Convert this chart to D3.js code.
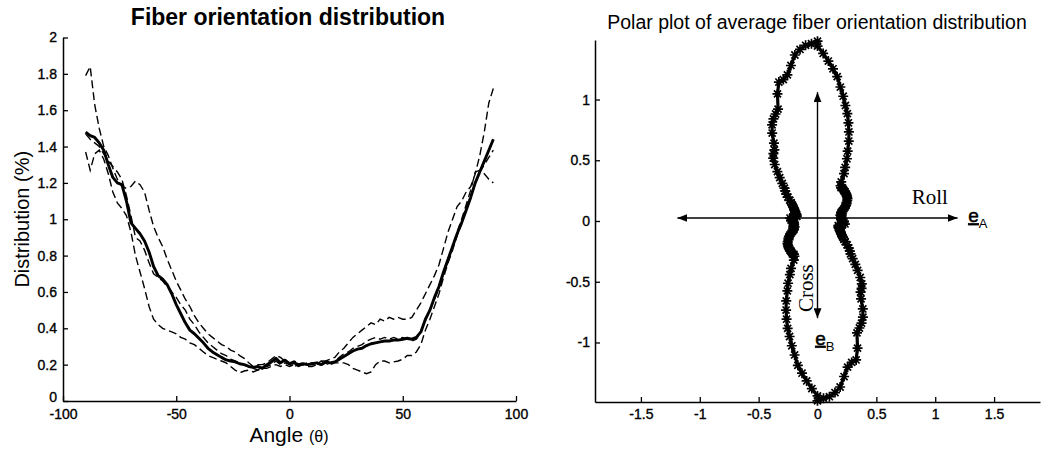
<!DOCTYPE html>
<html>
<head>
<meta charset="utf-8">
<script src="https://cdn.jsdelivr.net/npm/d3@7"></script>
<style>
  html, body { margin: 0; padding: 0; background: #fff; }
  svg { display: block; }
</style>
</head>
<body>
<svg id="chart" width="1045" height="453"></svg>
<script>
// angle grid (deg) shared by all distribution series
const ANGLES = [-90,-88,-86,-84,-82,-80,-78,-76,-74,-72,-70,-68,-66,-64,-62,-60,-58,-56,-54,-52,
  -50,-48,-46,-44,-42,-40,-38,-36,-34,-32,-30,-28,-26,-24,-22,-20,-18,-16,-14,-12,-10,-8,-6,-4,-2,0,
  2,4,6,8,10,12,14,16,18,20,22,24,26,28,30,32,34,36,38,40,42,44,46,48,50,52,54,56,58,60,
  62,64,66,68,70,72,74,76,78,80,82,84,86,88,90];

// average distribution (%) - solid curve, also used for the polar plot
const AVG_DIST = [1.48,1.46,1.45,1.42,1.38,1.30,1.23,1.20,1.19,1.10,0.98,0.95,0.92,0.88,0.82,0.74,0.69,0.67,0.64,0.59,
  0.53,0.48,0.43,0.39,0.37,0.345,0.32,0.29,0.27,0.255,0.24,0.226,0.22,0.215,0.205,0.20,0.19,0.185,0.19,0.18,0.20,0.215,0.235,0.21,0.225,0.205,
  0.21,0.20,0.205,0.20,0.205,0.21,0.20,0.215,0.21,0.215,0.23,0.245,0.26,0.275,0.285,0.29,0.305,0.315,0.32,0.325,0.33,0.33,0.335,0.335,0.34,0.345,0.34,0.35,0.38,0.45,
  0.50,0.57,0.63,0.71,0.78,0.85,0.92,0.98,1.05,1.12,1.20,1.26,1.32,1.38,1.44];

// individual samples - dashed curves
const SAMPLE_A = [1.79,1.84,1.63,1.50,1.40,1.35,1.28,1.22,1.18,1.17,1.18,1.21,1.19,1.15,1.05,0.96,0.90,0.85,0.78,0.72,
  0.66,0.61,0.56,0.52,0.47,0.43,0.40,0.37,0.35,0.33,0.31,0.30,0.28,0.27,0.25,0.235,0.21,0.19,0.20,0.20,0.21,0.23,0.25,0.24,0.22,0.21,
  0.22,0.21,0.20,0.21,0.20,0.21,0.22,0.22,0.23,0.24,0.27,0.29,0.32,0.35,0.37,0.39,0.41,0.43,0.42,0.45,0.44,0.46,0.45,0.46,0.45,0.45,0.46,0.50,0.54,0.59,
  0.64,0.69,0.75,0.84,0.93,1.00,1.07,1.10,1.15,1.18,1.25,1.35,1.48,1.64,1.72];

const SAMPLE_B = [1.37,1.27,1.36,1.38,1.33,1.25,1.15,1.09,1.06,1.02,0.93,0.80,0.71,0.62,0.52,0.45,0.42,0.40,0.39,0.38,
  0.37,0.35,0.34,0.32,0.31,0.29,0.27,0.25,0.24,0.23,0.22,0.21,0.19,0.17,0.155,0.165,0.17,0.16,0.17,0.18,0.18,0.19,0.20,0.19,0.20,0.19,
  0.20,0.19,0.20,0.19,0.19,0.20,0.20,0.21,0.20,0.21,0.21,0.21,0.20,0.18,0.17,0.16,0.15,0.16,0.20,0.22,0.22,0.21,0.215,0.22,0.23,0.25,0.25,0.27,0.31,0.39,
  0.45,0.52,0.59,0.68,0.76,0.83,0.91,0.98,1.06,1.13,1.20,1.26,1.30,1.34,1.38];

const SAMPLE_C = [1.47,1.44,1.42,1.40,1.36,1.32,1.29,1.26,1.22,1.13,1.02,0.90,0.88,0.83,0.76,0.70,0.68,0.66,0.63,0.60,
  0.57,0.53,0.50,0.45,0.42,0.38,0.35,0.32,0.30,0.28,0.26,0.25,0.23,0.22,0.21,0.20,0.19,0.18,0.17,0.19,0.19,0.20,0.22,0.20,0.21,0.20,
  0.19,0.20,0.21,0.20,0.21,0.20,0.22,0.20,0.21,0.22,0.24,0.26,0.27,0.29,0.30,0.31,0.33,0.34,0.35,0.34,0.35,0.34,0.35,0.34,0.35,0.34,0.33,0.34,0.38,0.44,
  0.50,0.56,0.62,0.70,0.77,0.85,0.93,1.00,1.08,1.16,1.26,1.27,1.25,1.22,1.20];

const DIST_X_TICKS = [-100, -50, 0, 50, 100];
const DIST_Y_TICKS = [0, 0.2, 0.4, 0.6, 0.8, 1, 1.2, 1.4, 1.6, 1.8, 2];
const POLAR_X_TICKS = [-1.5, -1, -0.5, 0, 0.5, 1, 1.5];
const POLAR_Y_TICKS = [-1, -0.5, 0, 0.5, 1];

const SANS = '"Liberation Sans", Arial, Helvetica, sans-serif';
const SERIF = '"Liberation Serif", "Times New Roman", serif';

const svg = d3.select("#chart");
svg.append("rect").attr("width", 1045).attr("height", 453).attr("fill", "#fff");

function styleAxis(g) {
  g.attr("font-family", SANS).attr("font-size", 14);
  g.select(".domain").attr("stroke", "#000").attr("stroke-width", 1.5);
  g.selectAll(".tick line").attr("stroke", "#000").attr("stroke-width", 1.3);
  g.selectAll(".tick text")
    .attr("fill", "#000")
    .attr("stroke", "#000")
    .attr("stroke-width", 0.35);
}

// ---------- left: fiber orientation distribution ----------
const x1 = d3.scaleLinear().domain([-100, 100]).range([63, 516]);
const y1 = d3.scaleLinear().domain([0, 2]).range([401, 37.5]);

const left = svg.append("g");

left.append("g")
  .attr("transform", `translate(0,${y1(0)})`)
  .call(d3.axisBottom(x1).tickValues(DIST_X_TICKS).tickSizeInner(-5).tickSizeOuter(0)
    .tickPadding(8).tickFormat((d) => String(d)))
  .call(styleAxis);

left.append("g")
  .attr("transform", `translate(${x1(-100)},0)`)
  .call(d3.axisLeft(y1).tickValues(DIST_Y_TICKS).tickSizeInner(-5).tickSizeOuter(0)
    .tickPadding(6).tickFormat((d) => String(d)))
  .call(styleAxis)
  // the corner "0" sits a little higher, clear of "-100"
  .call((g) => g.selectAll(".tick text").filter((d) => d === 0).attr("dy", "0.05em"));

const distLine = d3.line()
  .x((_, i) => x1(ANGLES[i]))
  .y((d) => y1(d));

[SAMPLE_A, SAMPLE_B, SAMPLE_C].forEach((series) => {
  left.append("path")
    .datum(series)
    .attr("d", distLine)
    .attr("fill", "none")
    .attr("stroke", "#000")
    .attr("stroke-width", 1.4)
    .attr("stroke-dasharray", "8,4");
});

left.append("path")
  .datum(AVG_DIST)
  .attr("d", distLine)
  .attr("fill", "none")
  .attr("stroke", "#000")
  .attr("stroke-width", 2.9)
  .attr("stroke-linejoin", "round");

left.append("text")
  .attr("x", 288).attr("y", 25)
  .attr("text-anchor", "middle")
  .attr("font-family", SANS).attr("font-size", 23).attr("font-weight", "bold")
  .text("Fiber orientation distribution");

const xLabel = left.append("text")
  .attr("x", 289).attr("y", 442)
  .attr("text-anchor", "middle")
  .attr("font-family", SANS).attr("font-size", 21);
xLabel.append("tspan").text("Angle ");
xLabel.append("tspan").attr("font-size", 16).text("(\u03b8)");

left.append("text")
  .attr("transform", `translate(29,${(y1(0) + y1(2)) / 2}) rotate(-90)`)
  .attr("text-anchor", "middle")
  .attr("font-family", SANS).attr("font-size", 20)
  .text("Distribution (%)");

// ---------- right: polar plot of the average ----------
const x2 = d3.scaleLinear().domain([-1.89, 1.89]).range([595, 1040]);
const y2 = d3.scaleLinear().domain([-1.49, 1.49]).range([402, 40]);

const right = svg.append("g");

right.append("g")
  .attr("transform", `translate(0,${y2(-1.49)})`)
  .call(d3.axisBottom(x2).tickValues(POLAR_X_TICKS).tickSizeInner(-5).tickSizeOuter(0)
    .tickPadding(7).tickFormat((d) => String(d)))
  .call(styleAxis);

right.append("g")
  .attr("transform", `translate(${x2(-1.89)},0)`)
  .call(d3.axisLeft(y2).tickValues(POLAR_Y_TICKS).tickSizeInner(-5).tickSizeOuter(0)
    .tickPadding(5).tickFormat((d) => String(d)))
  .call(styleAxis);

// polar points: each angle gives a point and its point-symmetric twin
const rad = Math.PI / 180;
const halfA = ANGLES.map((a, i) => [AVG_DIST[i] * Math.cos(a * rad), AVG_DIST[i] * Math.sin(a * rad)]);
const halfB = halfA.map(([px, py]) => [-px, -py]);
const polarPts = halfA.concat(halfB);

right.append("path")
  .datum(polarPts)
  .attr("d", d3.line().x((d) => x2(d[0])).y((d) => y2(d[1])).curve(d3.curveLinearClosed))
  .attr("fill", "none")
  .attr("stroke", "#000")
  .attr("stroke-width", 3.2);

const asterisk = {
  draw(ctx, size) {
    const r = Math.sqrt(size) / 2;
    const d = r * Math.SQRT1_2;
    ctx.moveTo(-r, 0); ctx.lineTo(r, 0);
    ctx.moveTo(0, -r); ctx.lineTo(0, r);
    ctx.moveTo(-d, -d); ctx.lineTo(d, d);
    ctx.moveTo(-d, d); ctx.lineTo(d, -d);
  },
};

right.append("g")
  .selectAll("path")
  .data(polarPts)
  .join("path")
  .attr("transform", (d) => `translate(${x2(d[0])},${y2(d[1])})`)
  .attr("d", d3.symbol().type(asterisk).size(100))
  .attr("fill", "none")
  .attr("stroke", "#000")
  .attr("stroke-width", 1.7);

// arrows
const defs = svg.append("defs");
defs.append("marker")
  .attr("id", "head")
  .attr("viewBox", "0 0 10 8")
  .attr("refX", 10).attr("refY", 4)
  .attr("markerWidth", 10).attr("markerHeight", 8)
  .attr("markerUnits", "userSpaceOnUse")
  .attr("orient", "auto-start-reverse")
  .append("path")
  .attr("d", "M0,0L10,4L0,8Z")
  .attr("fill", "#000");

right.append("line")
  .attr("x1", x2(-1.19)).attr("x2", x2(1.19))
  .attr("y1", y2(0.025)).attr("y2", y2(0.025))
  .attr("stroke", "#000").attr("stroke-width", 1.6)
  .attr("marker-start", "url(#head)").attr("marker-end", "url(#head)");

right.append("line")
  .attr("x1", x2(0)).attr("x2", x2(0))
  .attr("y1", y2(1.06)).attr("y2", y2(-0.8))
  .attr("stroke", "#000").attr("stroke-width", 1.4)
  .attr("marker-start", "url(#head)").attr("marker-end", "url(#head)");

right.append("text")
  .attr("x", x2(0.8)).attr("y", y2(0.14))
  .attr("font-family", SERIF).attr("font-size", 21)
  .text("Roll");

right.append("text")
  .attr("transform", `translate(${x2(-0.035)},${y2(-0.75)}) rotate(-90)`)
  .attr("font-family", SERIF).attr("font-size", 21)
  .text("Cross");

function unitVector(x, y, sub) {
  const t = right.append("text")
    .attr("x", x).attr("y", y)
    .attr("font-family", SANS).attr("font-size", 19);
  t.append("tspan").attr("text-decoration", "underline")
    .attr("stroke", "#000").attr("stroke-width", 0.5).text("e");
  t.append("tspan").attr("font-size", 13).attr("dy", 6).text(sub);
}
unitVector(x2(1.28), y2(-0.01), "A");
unitVector(x2(-0.02), y2(-1.02), "B");

right.append("text")
  .attr("x", 817).attr("y", 29)
  .attr("text-anchor", "middle")
  .attr("font-family", SANS).attr("font-size", 19.5)
  .text("Polar plot of average fiber orientation distribution");
</script>
</body>
</html>
